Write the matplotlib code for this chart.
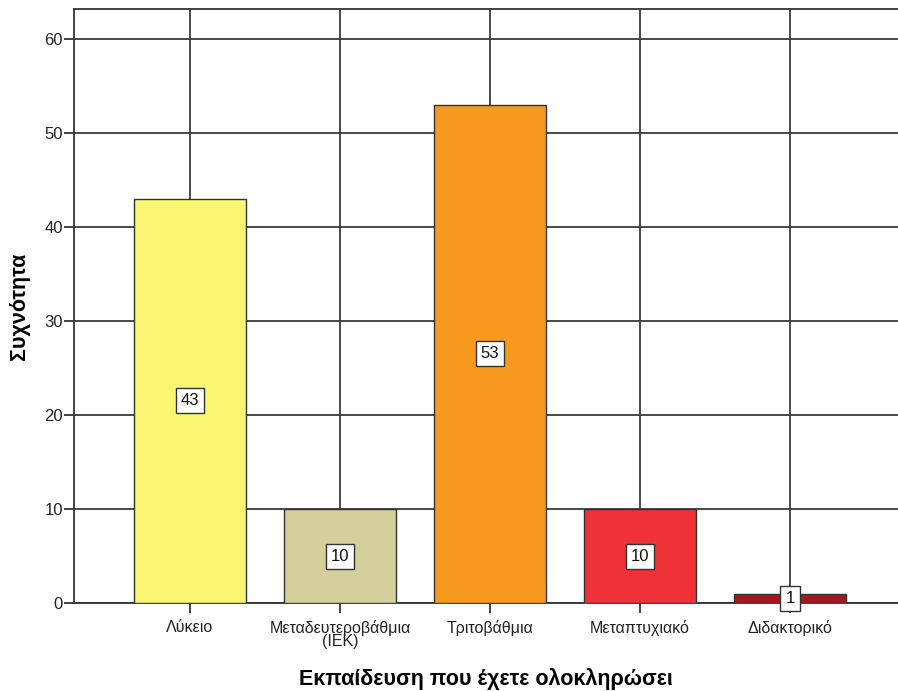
import matplotlib.pyplot as plt

plt.rcParams["font.family"] = ["Liberation Sans", "DejaVu Sans"]

categories = ["Λύκειο", "Μεταδευτεροβάθμια\n(ΙΕΚ)", "Τριτοβάθμια",
              "Μεταπτυχιακό", "Διδακτορικό"]
counts = [43, 10, 53, 10, 1]
colors = ["#f9f570", "#d4cf9b", "#f7981f", "#ee3238", "#a7161c"]

W, H = 898, 691
fig = plt.figure(figsize=(W / 100, H / 100), dpi=100)
fig.patch.set_facecolor("white")
ax = fig.add_axes([74 / W, (H - 603) / H, (W - 74) / W, (603 - 9) / H])

xs = list(range(len(categories)))
ax.bar(xs, counts, width=0.75, color=colors, edgecolor="#333333",
       linewidth=1.0, zorder=3)

# etiqueta con el valor en el centro de cada barra
for x, c in zip(xs, counts):
    ax.text(x, c / 2, str(c), ha="center", va="center", fontsize=12,
            color="#111111", zorder=5,
            bbox=dict(boxstyle="square,pad=0.3", facecolor="white",
                      edgecolor="#333333", linewidth=1.0))

ax.set_xlim(-0.773, 4.72)
ax.set_ylim(0, 63.2)
ax.set_yticks([0, 10, 20, 30, 40, 50, 60])
ax.set_xticks(xs)
ax.set_xticklabels(categories, fontsize=11.5, color="#222222",
                   linespacing=0.85)
ax.tick_params(axis="y", labelsize=12, colors="#222222", length=7,
               width=1.2, pad=1)
ax.tick_params(axis="x", length=7, width=1.2, pad=5, colors="#222222")

ax.grid(True, color="#3a3a3a", linewidth=1.3, zorder=0)
ax.set_axisbelow(True)
ax.spines["right"].set_visible(False)
for side in ["left", "top", "bottom"]:
    ax.spines[side].set_color("#333333")
    ax.spines[side].set_linewidth(1.3)

ax.set_ylabel("Συχνότητα", fontsize=15.5, fontweight="bold", labelpad=10)
ax.set_xlabel("Εκπαίδευση που έχετε ολοκληρώσει", fontsize=15.5,
              fontweight="bold", labelpad=14)

fig.savefig("out.png", dpi=100, facecolor="white")
